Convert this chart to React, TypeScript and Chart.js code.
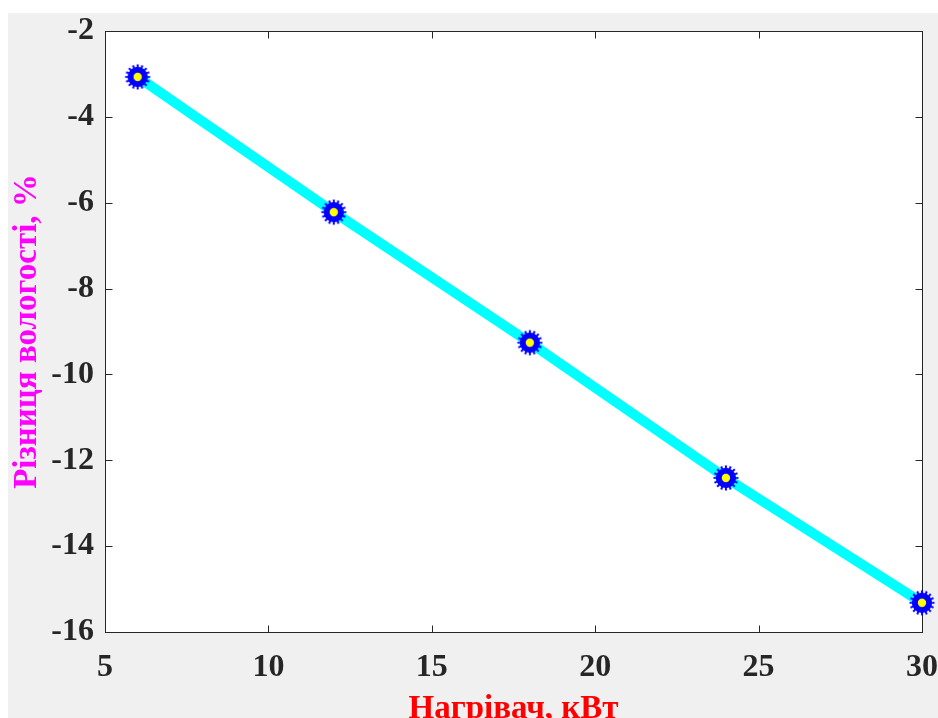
import React, { useEffect, useRef } from "react";
import { Chart, registerables } from "chart.js";

Chart.register(...registerables);

const heaterKW: number[] = [6, 12, 18, 24, 30];
const humidityDiff: number[] = [-3.07, -6.22, -9.26, -12.41, -15.32];
const xTitle = "Нагрівач, кВт";
const yTitle = "Різниця вологості, %";
const xRange = { min: 5, max: 30, step: 5 };
const yRange = { min: -16, max: -2, step: 2 };

const FONT = '"Liberation Serif", "Times New Roman", serif';
const TICK_COLOR = "#262626";

function makeMarker(): HTMLCanvasElement {
  const s = 28;
  const c = document.createElement("canvas");
  c.width = s;
  c.height = s;
  const g = c.getContext("2d")!;
  const cx = s / 2;
  const cy = s / 2;
  const n = 16;
  g.fillStyle = "#0000ff";
  g.beginPath();
  for (let i = 0; i < n; i++) {
    const a = (i * 2 * Math.PI) / n;
    const w = Math.PI / n / 2.2;
    const pts: [number, number][] = [
      [a - Math.PI / n + w * 0.2, 9.8],
      [a - w, 9.8],
      [a - w, 12.5],
      [a + w, 12.5],
      [a + w, 9.8],
    ];
    pts.forEach(([ang, r], k) => {
      const x = cx + r * Math.cos(ang);
      const y = cy + r * Math.sin(ang);
      if (i === 0 && k === 0) g.moveTo(x, y);
      else g.lineTo(x, y);
    });
  }
  g.closePath();
  g.fill();
  g.beginPath();
  g.arc(cx, cy, 10, 0, Math.PI * 2);
  g.fill();
  g.fillStyle = "#ffff00";
  g.beginPath();
  g.arc(cx, cy, 4.2, 0, Math.PI * 2);
  g.fill();
  return c;
}

const framePlugin = {
  id: "frame",
  beforeDraw(chart: any) {
    const { ctx, chartArea: a } = chart;
    ctx.save();
    ctx.fillStyle = "#ffffff";
    ctx.fillRect(a.left, a.top, a.right - a.left, a.bottom - a.top);
    ctx.restore();
  },
  beforeDatasetsDraw(chart: any) {
    const { ctx, chartArea: a, scales } = chart;
    const L = Math.round(a.left) + 0.5;
    const R = Math.round(a.right) + 0.5;
    const T = Math.round(a.top) + 0.5;
    const B = Math.round(a.bottom) + 0.5;
    const tl = 7;
    ctx.save();
    ctx.strokeStyle = TICK_COLOR;
    ctx.lineWidth = 1;
    ctx.beginPath();
    scales.x.ticks.forEach((t: any) => {
      const px = Math.round(scales.x.getPixelForValue(t.value)) + 0.5;
      ctx.moveTo(px, B);
      ctx.lineTo(px, B - tl);
      ctx.moveTo(px, T);
      ctx.lineTo(px, T + tl);
    });
    scales.y.ticks.forEach((t: any) => {
      const py = Math.round(scales.y.getPixelForValue(t.value)) + 0.5;
      ctx.moveTo(L, py);
      ctx.lineTo(L + tl, py);
      ctx.moveTo(R, py);
      ctx.lineTo(R - tl, py);
    });
    ctx.stroke();
    ctx.strokeRect(L, T, R - L, B - T);
    ctx.restore();
  },
};

function zeroPadding(scale: any) {
  scale.paddingLeft = 0;
  scale.paddingRight = 0;
  scale.paddingTop = 0;
  scale.paddingBottom = 0;
}

export default function App() {
  const ref = useRef<HTMLCanvasElement | null>(null);

  useEffect(() => {
    if (!ref.current) return;
    const marker = makeMarker();
    const chart = new Chart(ref.current, {
      type: "line",
      data: {
        datasets: [
          {
            data: heaterKW.map((x, i) => ({ x, y: humidityDiff[i] })),
            borderColor: "#00ffff",
            borderWidth: 10,
            pointStyle: marker as any,
            pointRadius: 12,
            pointBorderWidth: 0,
            clip: false as any,
            tension: 0,
          },
        ],
      },
      options: {
        animation: false,
        responsive: false,
        devicePixelRatio: 1,
        layout: { autoPadding: false, padding: { top: 18, right: 16, left: 0, bottom: 0 } },
        plugins: { legend: { display: false }, tooltip: { enabled: false } },
        scales: {
          x: {
            type: "linear",
            min: xRange.min,
            max: xRange.max,
            grid: { display: false, drawTicks: false },
            border: { display: false },
            ticks: {
              stepSize: xRange.step,
              color: TICK_COLOR,
              font: { family: FONT, size: 32, weight: "bold", lineHeight: 1 },
              padding: 20,
              maxRotation: 0,
            },
            title: {
              display: true,
              text: xTitle,
              color: "#ff0000",
              font: { family: FONT, size: 33, weight: "bold", lineHeight: 1 },
              padding: { top: 0, bottom: 17 },
            },
            afterFit(scale: any) {
              scale.height = 111;
              zeroPadding(scale);
            },
          },
          y: {
            type: "linear",
            min: yRange.min,
            max: yRange.max,
            grid: { display: false, drawTicks: false },
            border: { display: false },
            ticks: {
              stepSize: yRange.step,
              color: TICK_COLOR,
              font: { family: FONT, size: 32, weight: "bold", lineHeight: 1 },
              padding: 11,
            },
            title: {
              display: true,
              text: yTitle,
              color: "#ff00ff",
              font: { family: FONT, size: 33, weight: "bold", lineHeight: 1 },
              padding: { top: 3, bottom: 0 },
            },
            afterFit(scale: any) {
              scale.width = 97;
              zeroPadding(scale);
            },
          },
        },
      },
      plugins: [framePlugin],
    });
    return () => chart.destroy();
  }, []);

  return (
    <div
      style={{
        position: "absolute",
        left: 8,
        top: 13,
        width: 930,
        height: 705,
        overflow: "hidden",
        background: "#f0f0f0",
      }}
    >
      <canvas ref={ref} width={930} height={730} style={{ display: "block" }} />
    </div>
  );
}
